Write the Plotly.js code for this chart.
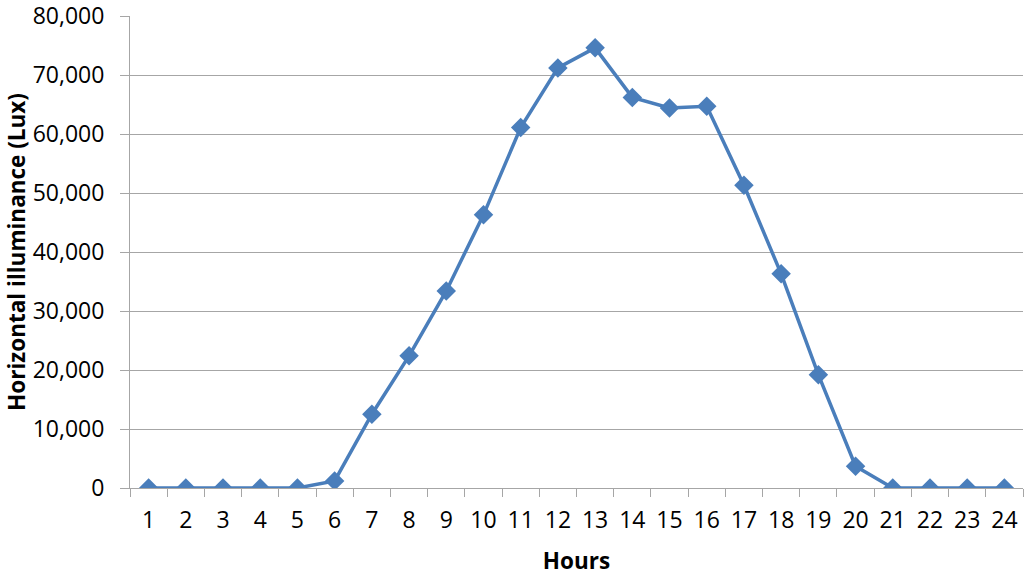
<!DOCTYPE html>
<html>
<head>
<meta charset="utf-8">
<script src="https://cdn.plot.ly/plotly-3.0.1.min.js"></script>
<style>
  html, body { margin: 0; padding: 0; background: #fff; }
  #chart { width: 1024px; height: 576px; }
</style>
</head>
<body>
<div id="chart"></div>
<script>
// horas del dia y la iluminancia horizontal medida (lux)
const hours = ['1', '2', '3', '4', '5', '6', '7', '8', '9', '10', '11', '12',
  '13', '14', '15', '16', '17', '18', '19', '20', '21', '22', '23', '24'];
const illuminance = [0, 0, 0, 0, 0, 1200, 12500, 22400, 33400, 46300, 61100, 71200,
  74600, 66200, 64400, 64700, 51300, 36300, 19200, 3700, 0, 0, 0, 0];

const blue = '#4a7ebb';
const grid = '#a6a6a6';
const fuente = '"Open Sans", "Noto Sans", sans-serif';

const serie = {
  x: hours,
  y: illuminance,
  type: 'scatter',
  mode: 'lines+markers',
  line: { color: blue, width: 3.5 },
  marker: { symbol: 'diamond', size: 15, color: blue },
  showlegend: false,
  hoverinfo: 'x+y'
};

const layout = {
  width: 1024,
  height: 576,
  margin: { l: 130, r: 1, t: 16, b: 88 },
  paper_bgcolor: '#fff',
  plot_bgcolor: '#fff',
  font: { family: fuente, size: 23, color: '#000' },
  xaxis: {
    type: 'category',
    range: [-0.5, hours.length - 0.5],
    tickson: 'boundaries',
    ticks: 'outside',
    ticklen: 8,
    tickcolor: grid,
    showline: true,
    linecolor: grid,
    linewidth: 1,
    showgrid: false,
    zeroline: false,
    ticklabelstandoff: 11,
    tickfont: { size: 23 },
    title: { text: 'Hours', font: { size: 22.5, weight: 'bold' }, standoff: 29 }
  },
  yaxis: {
    range: [0, 80000],
    dtick: 10000,
    tickformat: ',',
    ticks: 'outside',
    ticklen: 9,
    tickcolor: grid,
    showline: true,
    linecolor: grid,
    linewidth: 1,
    showgrid: true,
    gridcolor: grid,
    gridwidth: 1,
    zeroline: false,
    ticklabeloverflow: 'allow',
    ticklabelstandoff: 11,
    tickfont: { size: 23 },
    title: { text: 'Horizontal illuminance (Lux)', font: { size: 22.5, weight: 'bold' }, standoff: 0 }
  }
};

Plotly.newPlot('chart', [serie], layout, { displayModeBar: false, staticPlot: true });
</script>
</body>
</html>
